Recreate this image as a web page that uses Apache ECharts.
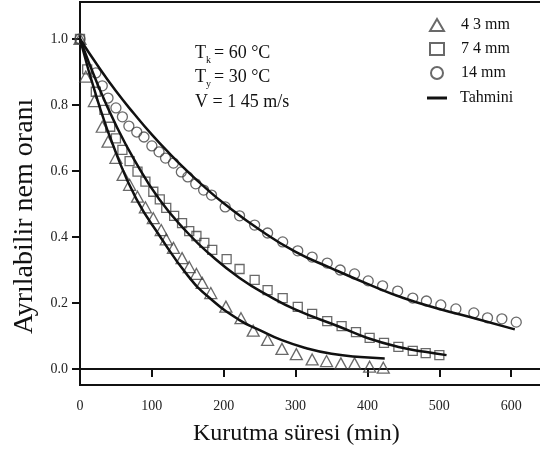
<!DOCTYPE html>
<html>
<head>
<meta charset="utf-8">
<script src="https://cdn.jsdelivr.net/npm/echarts@6/dist/echarts.min.js"></script>
<style>
html, body { margin: 0; padding: 0; background: #fff; }
#chart { width: 540px; height: 456px; }
</style>
</head>
<body>
<div id="chart"></div>
<script>
// olculen noktalar [dakika, oran]
var ucgen43 = [[0,1.0],[8,0.886],[20,0.812],[31,0.734],[39,0.689],[50,0.640],[60,0.588],[69,0.558],[80,0.522],[91,0.490],
    [102,0.457],[113,0.421],[120,0.393],[130,0.367],[142,0.336],[152,0.309],[162,0.288],[170,0.261],[182,0.230],
    [203,0.189],[224,0.154],[241,0.116],[261,0.088],[281,0.061],[301,0.045],[323,0.029],[343,0.024],[363,0.017],
    [382,0.017],[403,0.007],[422,0.004]];
var kare74 = [[0,1.0],[10,0.908],[22,0.840],[34,0.785],[42,0.734],[50,0.699],[59,0.664],[69,0.630],[80,0.598],[91,0.568],
    [102,0.537],[111,0.514],[120,0.488],[131,0.464],[142,0.442],[152,0.418],[162,0.403],[173,0.382],[184,0.361],
    [204,0.333],[222,0.303],[243,0.270],[261,0.239],[282,0.215],[303,0.188],[323,0.167],[344,0.145],[364,0.130],
    [384,0.112],[403,0.094],[423,0.079],[443,0.067],[463,0.055],[481,0.048],[500,0.042]];
var daire14 = [[0,1.0],[22,0.897],[31,0.858],[39,0.821],[50,0.791],[59,0.764],[68,0.736],[79,0.718],[89,0.703],[100,0.676],
    [110,0.658],[119,0.639],[130,0.624],[141,0.597],[150,0.582],[161,0.561],[172,0.542],[183,0.527],[202,0.491],
    [222,0.464],[243,0.436],[261,0.412],[282,0.385],[303,0.358],[323,0.339],[344,0.321],[362,0.300],[382,0.288],
    [401,0.267],[421,0.252],[442,0.236],[463,0.215],[482,0.206],[502,0.194],[523,0.182],[548,0.170],[567,0.155],
    [587,0.152],[607,0.142]];
// tahmini egriler
var tahmin43 = [[0,1.0],[25,0.81],[50,0.655],[78,0.517],[110,0.406],[150,0.283],[180,0.216],[222,0.148],[250,0.118],
    [280,0.088],[315,0.063],[350,0.046],[390,0.036],[424,0.032]];
var tahmin74 = [[0,1.0],[25,0.86],[50,0.739],[75,0.636],[110,0.515],[150,0.412],[180,0.349],[222,0.276],[264,0.22],
    [300,0.18],[361,0.128],[400,0.094],[445,0.066],[480,0.052],[510,0.042]];
var tahmin14 = [[0,1.0],[25,0.918],[50,0.842],[75,0.774],[100,0.71],[125,0.652],[150,0.598],[175,0.548],[200,0.502],
    [250,0.422],[300,0.355],[350,0.305],[400,0.258],[450,0.215],[500,0.182],[550,0.153],[605,0.12]];
var xTicks = [0, 100, 200, 300, 400, 500, 600];
var yTicks = [0, 0.2, 0.4, 0.6, 0.8, 1.0];
var olcumNames = ['4 3 mm', '7 4 mm', '14 mm'];

var serif = "'Liberation Serif', 'DejaVu Serif', serif";
var chart = echarts.init(document.getElementById('chart'));

function olcum(name, symbol, size, data) {
    return {
        name: name,
        type: 'scatter',
        symbol: symbol,
        symbolSize: size,
        itemStyle: { color: 'rgba(0,0,0,0)', borderColor: '#444', borderWidth: 1.3 },
        data: data,
        z: 2
    };
}
function egri(data) {
    return {
        name: 'Tahmini',
        type: 'line',
        data: data,
        smooth: true,
        showSymbol: false,
        symbol: 'none',
        lineStyle: { color: '#111', width: 2.5 },
        itemStyle: { color: '#111' },
        z: 3
    };
}

var option = {
    animation: false,
    grid: {
        left: 80, right: -5, top: 2, bottom: 71,
        show: true, borderColor: '#111', borderWidth: 2,
        containLabel: false, outerBoundsMode: 'none'
    },
    legend: [{
        data: olcumNames,
        orient: 'vertical',
        left: 429, top: 17, padding: 0,
        itemWidth: 14, itemHeight: 12, itemGap: 8,
        textStyle: { fontFamily: serif, fontSize: 16, color: '#111', padding: [0, 0, 0, 12] }
    }, {
        data: [{ name: 'Tahmini', icon: 'rect' }],
        orient: 'vertical',
        left: 427, top: 90, padding: 0,
        itemWidth: 20, itemHeight: 3,
        itemStyle: { color: '#111' },
        textStyle: { fontFamily: serif, fontSize: 16, color: '#111', padding: [0, 0, 0, 8] }
    }],
    xAxis: {
        type: 'value', min: 0, max: 647,
        splitLine: { show: false },
        axisLine: { lineStyle: { color: '#111', width: 2 } },
        axisTick: { customValues: xTicks, length: 8, lineStyle: { color: '#111', width: 2 } },
        axisLabel: { customValues: xTicks, fontFamily: serif, fontSize: 14, color: '#222', margin: 14 }
    },
    yAxis: {
        type: 'value', min: -0.0485, max: 1.112,
        splitLine: { show: false },
        axisLine: { lineStyle: { color: '#111', width: 2 } },
        axisTick: { customValues: yTicks, length: 8, lineStyle: { color: '#111', width: 2 } },
        axisLabel: {
            customValues: yTicks, fontFamily: serif, fontSize: 14, color: '#222', margin: 12,
            formatter: function (v) { return v.toFixed(1); }
        }
    },
    graphic: [
        { type: 'text', left: 193, top: 422, style: { text: 'Kurutma süresi (min)', font: '24px ' + serif, fill: '#111' } },
        { type: 'text', x: 11, y: 334, rotation: Math.PI / 2,
          style: { text: 'Ayrılabilir nem oranı', font: '28px ' + serif, fill: '#111', textVerticalAlign: 'top' } },
        { type: 'text', x: 195, y: 44, style: { text: 'T', font: '18px ' + serif, fill: '#111' } },
        { type: 'text', x: 206, y: 55, style: { text: 'k', font: '10px ' + serif, fill: '#111' } },
        { type: 'text', x: 214, y: 44, style: { text: '= 60 °C', font: '18px ' + serif, fill: '#111' } },
        { type: 'text', x: 195, y: 68, style: { text: 'T', font: '18px ' + serif, fill: '#111' } },
        { type: 'text', x: 206, y: 79, style: { text: 'y', font: '10px ' + serif, fill: '#111' } },
        { type: 'text', x: 214, y: 68, style: { text: '= 30 °C', font: '18px ' + serif, fill: '#111' } },
        { type: 'text', x: 195, y: 93, style: { text: 'V = 1 45 m/s', font: '18px ' + serif, fill: '#111' } }
    ],
    series: [
        olcum('4 3 mm', 'triangle', [12, 11], ucgen43),
        olcum('7 4 mm', 'rect', [9, 9], kare74),
        olcum('14 mm', 'circle', 10, daire14),
        egri(tahmin43),
        egri(tahmin74),
        egri(tahmin14)
    ]
};
chart.setOption(option);
</script>
</body>
</html>
